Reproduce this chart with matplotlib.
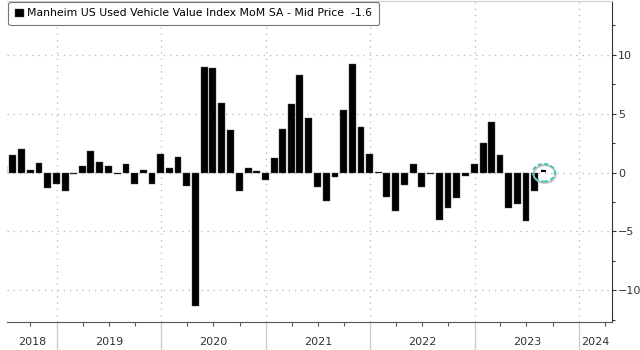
import matplotlib
matplotlib.use('Agg')
import matplotlib.pyplot as plt
import matplotlib.dates as mdates
from matplotlib.patches import Ellipse
import numpy as np
import pandas as pd

# monthly values, month-end dated (Jun 2018 .. Jul 2023)
months = pd.date_range('2018-06-30', '2023-07-31', freq='ME')
mom_2018 = [0.6, 1.5, 2.0, 0.2, 0.8, -1.3, -1.0]
mom_2019 = [-1.6, -0.15, 0.55, 1.85, 0.9, 0.6, -0.1, 0.7, -1.0, 0.25, -1.0, 1.55]
mom_2020 = [0.4, 1.35, -1.15, -11.35, 8.95, 8.85, 5.9, 3.6, -1.55, 0.4, 0.1, -0.6]
mom_2021 = [1.25, 3.7, 5.85, 8.3, 4.6, -1.25, -2.45, -0.4, 5.3, 9.2, 3.9, 1.6]
mom_2022 = [0.05, -2.05, -3.3, -1.05, 0.7, -1.25, -0.1, -4.0, -3.0, -2.2, -0.25, 0.75]
mom_2023 = [2.5, 4.3, 1.5, -3.0, -2.7, -4.1, -1.6]
values = mom_2018 + mom_2019 + mom_2020 + mom_2021 + mom_2022 + mom_2023

label = 'Manheim US Used Vehicle Value Index MoM SA - Mid Price  -1.6'
circled_date = pd.Timestamp('2023-08-31')
circled_value = 0.12
years = [2018, 2019, 2020, 2021, 2022, 2023, 2024]

fig = plt.figure(figsize=(6.4, 3.5), dpi=100)
ax = fig.add_axes([0.011, 0.081, 0.945, 0.917])

ax.bar(months, values, width=24, color='black', edgecolor='#555555', linewidth=0.3,
       label=label, zorder=3)

xmin = pd.Timestamp('2018-07-11')
xmax = pd.Timestamp('2024-04-25')
ax.set_xlim(xmin, xmax)
ax.set_ylim(-12.66, 14.6)

# grid
grid_kw = dict(color='#b5b5b5', linestyle=(0, (1, 4)), linewidth=0.9, zorder=1)
for y in [-10, -5, 0, 5, 10]:
    ax.axhline(y, **grid_kw)
for yr in years[1:]:
    ax.axvline(pd.Timestamp(f'{yr}-01-01'), **grid_kw)

# y axis on the right
ax.yaxis.tick_right()
ax.set_yticks([-10, -5, 0, 5, 10])
ax.set_yticks([-12.5, -7.5, -2.5, 2.5, 7.5, 12.5], minor=True)
ax.tick_params(axis='y', which='major', direction='out', length=3, width=0.8,
               color='#333333', labelsize=8, labelcolor='#333333', pad=1.5)
ax.tick_params(axis='y', which='minor', direction='out', length=2, width=0.8, color='#333333')

# x axis: year separators + quarter ticks, labels centred on visible part of year
ax.set_xticks([pd.Timestamp(f'{yr}-01-01') for yr in years[1:]])
ax.set_xticklabels([])
ax.tick_params(axis='x', which='major', direction='out', length=21, width=1.0, color='#cccccc')
qticks = [pd.Timestamp(f'{yr}-{m:02d}-01') for yr in years for m in (4, 7, 10)]
qticks = [q for q in qticks if xmin < q < xmax]
ax.set_xticks(qticks, minor=True)
ax.tick_params(axis='x', which='minor', direction='out', length=3, width=0.8, color='#555555')
for yr in years:
    a = max(mdates.date2num(pd.Timestamp(f'{yr}-01-01')), mdates.date2num(xmin))
    b = min(mdates.date2num(pd.Timestamp(f'{yr + 1}-01-01')), mdates.date2num(xmax))
    ax.text((a + b) / 2, -0.062, str(yr), transform=ax.get_xaxis_transform(),
            ha='center', va='center', fontsize=8, color='#333333')

ax.spines['left'].set_visible(False)
ax.spines['top'].set_color('#cccccc')
ax.spines['top'].set_linewidth(0.8)
ax.spines['right'].set_color('#333333')
ax.spines['bottom'].set_color('#555555')

# circled annotation
cx = mdates.date2num(circled_date)
ax.add_patch(Ellipse((cx + 3, -0.12), 77, 1.5, fill=False, edgecolor='#bbbbbb',
                     linewidth=1.4, zorder=4))
ax.add_patch(Ellipse((cx, 0.0), 77, 1.5, fill=False, edgecolor='#2ec4b6',
                     linestyle=(0, (2.5, 1.5)), linewidth=1.2, zorder=5))
ax.plot([cx - 9, cx + 9], [circled_value, circled_value], color='black', linewidth=1.6,
        solid_capstyle='butt', zorder=6)

leg = ax.legend(loc='upper left', bbox_to_anchor=(0.0, 1.0), fontsize=7.8, frameon=True,
                fancybox=True, edgecolor='#777777', framealpha=1, handlelength=0.8,
                handleheight=0.8, handletextpad=0.35, borderpad=0.6, borderaxespad=0.12)
leg.get_frame().set_linewidth(0.8)
leg.set_zorder(10)

fig.savefig('out.png', dpi=100)
